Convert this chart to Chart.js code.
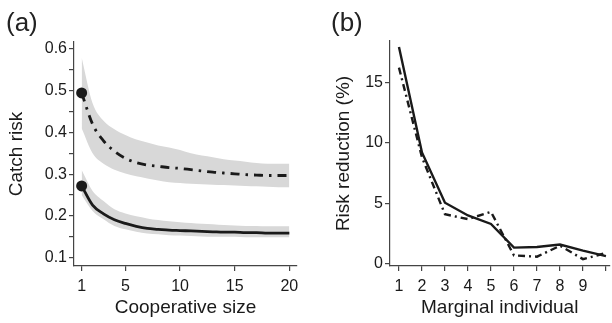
<!DOCTYPE html>
<html>
<head>
<meta charset="utf-8">
<script src="https://cdn.jsdelivr.net/npm/chart.js@4/dist/chart.umd.min.js"></script>
<style>
  body { margin: 0; background: #fff; width: 612px; height: 323px; overflow: hidden; position: relative; font-family: "Liberation Sans", Arial, sans-serif; }
  .box { position: absolute; top: 0; height: 323px; }
  .tag { position: absolute; top: 7px; font-size: 26px; color: #222; }
</style>
</head>
<body>
<div class="box" style="left:0;width:310px"><canvas id="chartA" width="310" height="323"></canvas></div>
<div class="box" style="left:310px;width:302px"><canvas id="chartB" width="302" height="323"></canvas></div>
<div class="tag" style="left:6px">(a)</div>
<div class="tag" style="left:331px">(b)</div>
<script>
// ---- (a) catch risk vs cooperative size ----
const coopSize = [1, 2, 3, 4, 5, 6, 7, 8, 9, 10, 11, 12, 13, 14, 15, 16, 17, 18, 19, 20];
const riskDash = [0.495, 0.42, 0.38, 0.355, 0.338, 0.328, 0.322, 0.319, 0.316, 0.314, 0.311, 0.308, 0.305, 0.303, 0.301, 0.299, 0.298, 0.297, 0.297, 0.297];
const riskDashHi = [0.58, 0.47, 0.428, 0.408, 0.394, 0.383, 0.376, 0.369, 0.364, 0.358, 0.35, 0.345, 0.341, 0.336, 0.333, 0.33, 0.327, 0.325, 0.325, 0.325];
const riskDashLo = [0.41, 0.35, 0.325, 0.311, 0.302, 0.295, 0.29, 0.285, 0.281, 0.279, 0.277, 0.276, 0.275, 0.274, 0.273, 0.272, 0.271, 0.27, 0.269, 0.269];
const riskSolid = [0.272, 0.226, 0.205, 0.191, 0.182, 0.175, 0.17, 0.168, 0.166, 0.165, 0.164, 0.163, 0.162, 0.161, 0.161, 0.16, 0.16, 0.159, 0.159, 0.159];
const riskSolidHi = [0.31, 0.26, 0.236, 0.216, 0.206, 0.199, 0.194, 0.19, 0.187, 0.185, 0.183, 0.181, 0.18, 0.178, 0.177, 0.176, 0.176, 0.175, 0.175, 0.175];
const riskSolidLo = [0.25, 0.212, 0.192, 0.176, 0.168, 0.162, 0.158, 0.156, 0.154, 0.153, 0.152, 0.151, 0.15, 0.15, 0.15, 0.149, 0.149, 0.149, 0.149, 0.149];
const xTicksA = [1, 5, 10, 15, 20];
const yTicksA = [0.1, 0.15, 0.2, 0.25, 0.3, 0.35, 0.4, 0.45, 0.5, 0.55, 0.6];
const yLabelsA = ["0.1", "0.2", "0.3", "0.4", "0.5", "0.6"];

// ---- (b) risk reduction per marginal individual ----
const marginal = [1, 2, 3, 4, 5, 6, 7, 8, 9, 10];
const reductionSolid = [17.9, 9.2, 5.05, 4.0, 3.3, 1.35, 1.4, 1.6, 1.1, 0.65];
const reductionDash = [16.2, 8.8, 4.1, 3.7, 4.3, 0.7, 0.6, 1.5, 0.4, 0.9];
const xTicksB = [1, 2, 3, 4, 5, 6, 7, 8, 9, 10];
const xLabelsB = ["1", "2", "3", "4", "5", "6", "7", "8", "9"];
const yTicksB = [0, 5, 10, 15];

const FONT = "'Liberation Sans', Arial, sans-serif";
const INK = "#1a1a1a";
const AXIS = "#444";
const BAND = "#d8d8d8";

const pts = (xs, ys) => xs.map((x, i) => ({ x: x, y: ys[i] }));
const dotFirst = (ctx) => (ctx.dataIndex === 0 ? 5.5 : 0);

function axisStyle() {
  return {
    grid: { drawOnChartArea: false, drawTicks: true, tickLength: 5, color: AXIS, lineWidth: 1.2 },
    border: { display: true, color: AXIS, width: 1.2 },
  };
}

const chartA = new Chart(document.getElementById("chartA").getContext("2d"), {
  type: "line",
  data: {
    datasets: [
      { data: pts(coopSize, riskDash), borderColor: INK, borderWidth: 2.8, borderDash: [9, 6, 2.5, 6],
        pointRadius: dotFirst, pointBackgroundColor: INK, pointBorderWidth: 0, fill: false },
      { data: pts(coopSize, riskSolid), borderColor: INK, borderWidth: 2.8,
        pointRadius: dotFirst, pointBackgroundColor: INK, pointBorderWidth: 0, fill: false },
      { data: pts(coopSize, riskDashHi), borderWidth: 0, pointRadius: 0, fill: false },
      { data: pts(coopSize, riskDashLo), borderWidth: 0, pointRadius: 0, fill: "-1", backgroundColor: BAND },
      { data: pts(coopSize, riskSolidHi), borderWidth: 0, pointRadius: 0, fill: false },
      { data: pts(coopSize, riskSolidLo), borderWidth: 0, pointRadius: 0, fill: "-1", backgroundColor: BAND },
    ],
  },
  options: {
    responsive: false,
    animation: false,
    elements: { line: { tension: 0.4, cubicInterpolationMode: "monotone" } },
    layout: { padding: { top: 42, right: 13, left: 0, bottom: 0 } },
    plugins: { legend: { display: false }, tooltip: { enabled: false } },
    scales: {
      x: {
        type: "linear", min: 0.3, max: 20.7,
        ...axisStyle(),
        afterBuildTicks: (s) => { s.ticks = xTicksA.map((v) => ({ value: v })); },
        afterFit: (s) => { s.height = 57; },
        ticks: { color: INK, font: { family: FONT, size: 16 }, padding: 6, maxRotation: 0,
          callback: (v) => String(v) },
        title: { display: true, text: "Cooperative size", color: INK, font: { family: FONT, size: 19 }, padding: { top: 0, bottom: 4 } },
      },
      y: {
        type: "linear", min: 0.08, max: 0.617,
        ...axisStyle(),
        afterBuildTicks: (s) => { s.ticks = yTicksA.map((v) => ({ value: v })); },
        afterFit: (s) => { s.width = 74; },
        ticks: { color: INK, font: { family: FONT, size: 16 }, padding: 2,
          callback: (v) => { const t = v.toFixed(1); return Math.abs(v - Number(t)) < 1e-6 && yLabelsA.includes(t) ? t : ""; } },
        title: { display: true, text: "Catch risk", color: INK, font: { family: FONT, size: 19 }, padding: { top: 5, bottom: 0 } },
      },
    },
  },
});

const chartB = new Chart(document.getElementById("chartB").getContext("2d"), {
  type: "line",
  data: {
    datasets: [
      { data: pts(marginal, reductionSolid), borderColor: INK, borderWidth: 2.4, pointRadius: 0, fill: false },
      { data: pts(marginal, reductionDash), borderColor: INK, borderWidth: 2.4, borderDash: [7, 4, 2, 4], pointRadius: 0, fill: false },
    ],
  },
  options: {
    responsive: false,
    animation: false,
    layout: { padding: { top: 41, right: 2, left: 0, bottom: 0 } },
    plugins: { legend: { display: false }, tooltip: { enabled: false } },
    scales: {
      x: {
        type: "linear", min: 0.61, max: 10.15,
        ...axisStyle(),
        afterBuildTicks: (s) => { s.ticks = xTicksB.map((v) => ({ value: v })); },
        afterFit: (s) => { s.height = 57; },
        ticks: { color: INK, font: { family: FONT, size: 16 }, padding: 6, maxRotation: 0, autoSkip: false,
          callback: (v) => xLabelsB[v - 1] || "" },
        title: { display: true, text: "Marginal individual", color: INK, font: { family: FONT, size: 19 }, padding: { top: 0, bottom: 4 } },
      },
      y: {
        type: "linear", min: -0.17, max: 18.4,
        ...axisStyle(),
        afterBuildTicks: (s) => { s.ticks = yTicksB.map((v) => ({ value: v })); },
        afterFit: (s) => { s.width = 80; },
        ticks: { color: INK, font: { family: FONT, size: 16 }, padding: 2, callback: (v) => String(v) },
        title: { display: true, text: "Risk reduction (%)", color: INK, font: { family: FONT, size: 19 }, padding: { top: 22, bottom: 0 } },
      },
    },
  },
});
</script>
</body>
</html>
